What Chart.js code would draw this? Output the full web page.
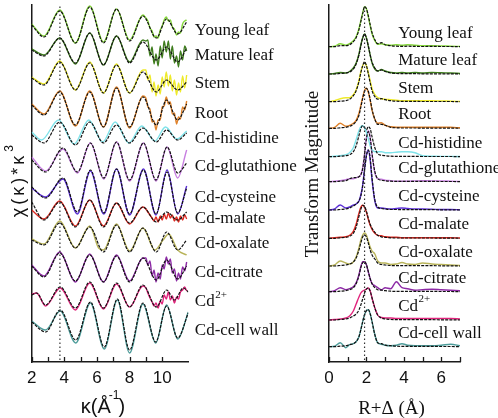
<!DOCTYPE html>
<html><head><meta charset="utf-8">
<script src="https://cdn.jsdelivr.net/npm/chart.js@4/dist/chart.umd.min.js"></script>
<style>
html,body{margin:0;padding:0;background:#fff;width:498px;height:418px;overflow:hidden}
canvas{position:absolute;left:0;top:0}
</style></head><body>
<canvas id="cK" width="498" height="418"></canvas>
<canvas id="cR" width="498" height="418"></canvas>
<script>
// ---------- labels & styling data ----------
const names = ['Young leaf','Mature leaf','Stem','Root','Cd-histidine','Cd-glutathione','Cd-cysteine','Cd-malate','Cd-oxalate','Cd-citrate','Cd2+','Cd-cell wall'];
const colors = ['#86d83c','#3f7d1e','#eeea2a','#e0822a','#7fe3ea','#c77ee0','#5b2fd6','#dc2a22','#b9b45a','#8d2aa6','#e0247c','#4d9c9a'];
const kTickLabels = [2,4,6,8,10];
const rTickLabels = [0,2,4,6];
const kMark = 3.73;   // dotted reference line, k-space
const rMark = 1.9;    // dotted reference line, R-space

// vertical stacking offsets
const kOffsets = [337,312,284,254,229,201,170,149,124,95,66,37];
const rBaselines = [315.3,288,260.3,233.7,205.3,180.3,152,123.7,96,70.3,42,15.3];

// ---------- k-space (chi(k)*k^3) ----------
const kA = [2.0,2.75,3.72,4.68,5.56,6.4,7.2,8.0,8.82,9.64,10.27,10.95,11.5];
const kB = [2.0,2.85,3.92,4.8,5.6,6.42,7.2,8.0,8.85,9.62,10.3,10.95,11.5];
const kC = [2.0,2.6,3.65,4.6,5.5,6.35,7.12,7.95,8.75,9.55,10.2,10.9,11.5];
const kD = [2.0,2.3,2.85,3.75,4.68,5.56,6.4,7.2,8.0,8.82,9.64,10.27,10.75,11.3,11.6];
const kE = [2.0,2.85,3.75,4.7,5.6,6.45,7.25,8.0,8.82,9.6,10.27,10.95,11.6];
const kOx = [2.0,2.75,3.72,4.68,5.56,6.1,6.4,7.2,8.0,8.82,9.55,10.05,10.4,10.95,11.5];
const kNoise = [9.0,9.12,9.25,9.38,9.5,9.62,9.75,9.88,10.0,10.12,10.25,10.38,10.5,10.62,10.75,10.88,11.0,11.12,11.25,11.38,11.5];

const youngFit = [0,-12,14,-18,18,-18,16,-16,9,-13,6,-9,3];
const youngData = [1,-11,15,-18,19,-17,16,-15,10];
const youngNoise = [7,4,-3,-6,-12,-11,-13,-5,-1,5,8,4,5,-2,-4,-10,-7,-8,1,4,5];
const matureFit = [0,-6,12,-13,17,-15,14,-13,8,-10,3,-12,2];
const matureData = [1,-5,12,-14,17,-15,14,-12,10];
const matureNoise = [9,10,-6,3,-14,-4,-16,4,-8,9,-2,9,-9,4,-13,-6,-17,-1,-10,4,-1];
const stemFit = [0,-7,16,-12,15,-15,13,-15,6,-14,-2,-12,-4];
const stemData = [1,-6,17,-12,16,-15,14,-15,8];
const stemNoise = [8,-2,3,-14,-4,-18,-7,-16,1,-9,6,-8,3,-13,-2,-17,-5,-14,2,-10,3];
const rootFit = [3,-7,16,-17,16,-19,20,-19,11,-17,8,-12,4];
const rootData = [4,-6,17,-18,17,-19,21,-20,12];
const rootNoise = [10,1,-1,-14,-13,-22,-12,-12,1,2,11,4,6,-6,-5,-16,-9,-11,1,-2,7];
const histFit = [-2,-10,11,-12,11,-10,8,-10,5,-9,3,-7,0];
const histData = [1,-7,13,-11,13,-9,11,-10,7,-8,6,-6,2];
const glutFit = [1,-11,13,-11,18,-17,19,-19,18,-19,14,-12,-2];
const glutData = [4,-10,12,-12,18,-18,19,-20,18,-20,14,-17,11];
const cysFit = [5,-6,14,-20,22,-21,23,-22,22,-22,20,-21,4];
const cysData = [4,-5,13,-22,21,-22,23,-23,23,-23,22,-22,6];
const malFit = [11,-7,11,-14,13,-14,10,-10,6,-9,1,-7,1];
const malData = [3,-6,12,-13,13,-13,10,-11,6];
const malNoise = [4,1,-2,-5,-8,-4,-9,-3,-7,-1,-6,0,-5,-2,-8,-4,-9,-3,-7,-2,-6];
const oxFit = [-2,-7,15,-10,11,-14,13,-14,10,-14,6,-12,-2];
const oxData = [-1,-6,17,-10,12,-10,-12,14,-13,10,-12,-2,4,-12,-17];
const citFit = [1,-10,14,-14,12,-15,11,-15,9,-13,7,-12,1];
const citData = [2,-9,15,-15,13,-15,12,-14,9];
const citNoise = [9,2,6,-9,-3,-15,-6,-12,2,-2,10,3,8,-6,-2,-14,-6,-12,0,-4,5];
const cd2Fit = [1,3,-9,9,-12,14,-12,13,-11,11,-11,6,-4,8,4];
const cd2Data = [2,3,-10,8,-14,13,-13,12,-11,10];
const cd2Noise = [8,3,-2,-6,-10,-7,-12,-5,-8,1,-3,4,-4,0,-7,-1,-3,4,6,9,5];
const cwFit = [3,-7,15,-15,23,-22,26,-25,22,-17,19,-13,12];
const cwData = [4,-5,14,-18,22,-24,25,-28,21,-18,20,-14,13];

// ---------- R-space (transform magnitude) ----------
const rGrid = [0,0.3,0.6,0.9,1.1,1.3,1.45,1.6,1.7,1.8,1.9,2.0,2.1,2.2,2.3,2.45,2.6,2.8,3.0,3.3,3.6,3.9,4.2,4.6,5.0,5.5,6.0,6.5,7.0];
const ylR = [0,0,1,1,2,5,9,17,25,33,40,38,31,22,14,7,3,4,2,1,0.5,0.3,0.5,0.3,0.2,0.3,0.2,0.2,0];
const ylRd = [0,0.5,3,1.5,3,6,10,18,26,34,40,38,30,21,13,6,2.5,3,2,1.5,2,1.5,2,1.5,1,1,0.8,0.5,0.3];
const mlR = [0,0,0.5,1,2,5,10,19,28,36,40,36,28,19,12,6,3,4,2.5,1,0.5,0.3,0.3,0.3,0.2,0.2,0.2,0.2,0];
const mlRd = [0,0.5,1.5,1,2.5,6,11,20,29,36,40,36,28,19,11,5,3,4.5,3,1.5,1,1.5,1,1.5,1,1.5,1.2,1,0.5];
const stR = [0,0,0.5,1,2.5,6,11,20,29,36,40,36,28,19,11,5,2.5,3,2,1,0.5,0.3,0.3,0.3,0.2,0.2,0.2,0.2,0];
const stRd = [0,1,3,4,4,7,12,21,30,36,39,36,29,21,13,7,4,3,2.5,2,1.5,1,1,1,1,1,0.8,0.5,0.3];
const rtR = [0,0,0.5,1,2,4,7,13,21,30,37,40,37,29,19,9,4,4,3,1,0.5,0.3,0.3,0.3,0.2,0.2,0.2,0.2,0];
const rtRd = [0,1,5,2,3,5,8,15,23,31,38,40,36,28,18,9,5,5.5,3,1.5,1,1,1,1,1,1,1,1,0.5];
const hiR = [0,0,0.5,1,2,5,11,21,28,31,29,27,30,28,20,9,3,1.5,1,0.5,0.3,0.3,0.3,0.3,0.2,0.2,0.2,0.2,0];
const hiRd = [0,0.5,1,2,4,9,17,26,30,31,29,24,18,11,7,5,5,5,4,4,4.5,5,5,4,1,0.5,0.3,0.3,0.2];
const gsR = [0,0,0.5,1,3,4,4,5,7,13,27,43,50,44,28,10,3,1.5,1,0.5,0.3,0.3,0.3,0.3,0.3,0.3,0.2,0.2,0];
const gsRd = [0,0.5,1,2,3,3,4,5,7,14,28,44,51,44,27,9,3,2.5,1.5,1,0.5,0.5,0.5,0.8,1,0.8,0.8,0.5,0.3];
const csR = [0,0,0.5,1,2,4,6,9,14,24,40,54,60,52,32,10,3,1.5,1,0.5,0.5,0.3,0.3,0.3,0.3,0.3,0.2,0.2,0];
const csRd = [0,1,5,2,3,5,6,9,15,25,41,55,60,50,30,9,2,2,1.5,1,1.5,2,1.5,1,1,0.8,0.5,0.5,0.3];
const maR = [0,0,0.5,1,2,5,11,22,29,33,32,27,20,14,10,6,3,1.5,1,0.5,0.3,0.3,0.3,0.3,0.3,0.3,0.2,0.2,0];
const maRd = [0,0.5,1,1.5,3,7,14,25,31,33,31,26,19,13,9,5,3,2.5,1.5,1,1,0.5,0.5,0.5,0.5,0.5,0.5,0.5,0.3];
const oxR = [0,0,0.5,1,2,4,8,16,23,29,31,29,23,16,11,7,3,1.5,1,0.5,0.3,0.3,0.3,0.3,0.3,0.3,0.2,0.2,0];
const oxRd = [0,1,5,3,2,4,9,18,26,31,33,31,25,19,15,12,5,3,3,1.5,2,3.5,2,1.5,3,2,1.5,1,0.5];
const ctR = [0,0,0.5,1,2,4,8,16,24,29,30,27,20,13,8,4,2,1.5,1,0.5,0.3,0.3,0.3,0.3,0.3,0.3,0.2,0.2,0];
const ctRd = [0,1,4,2,3,5,9,17,25,30,30,27,20,13,8,6,4,2,4,3,10,4,3,1.5,2,2.5,2,1.5,1];
const c2R = [0,0,0.5,1,2,4,6,10,15,21,27,31,32,29,22,12,5,2,1,0.5,0.3,0.3,0.3,0.3,0.3,0.3,0.2,0.2,0];
const c2Rd = [0,0.5,1,2,4,9,16,23,27,29,30,31,32,29,22,12,5,2.5,2,2,1.5,1.5,1.5,1.5,1.5,1.5,1.5,1.5,1];
const cwR = [0,0,0.5,1,2,3,5,10,17,25,32,36,37,33,25,12,4,3,1.5,1,0.5,0.3,0.3,0.3,0.3,0.3,0.2,0.2,0];
const cwRd = [0,0.5,4,-1,2,3,5,10,17,25,32,36,37,33,25,12,4,2.5,1.5,1,1.5,3,1.5,1,1,1,1.5,2.5,1];

// ---------- build tables ----------
const pts = (ks, vs, base) => vs.map((v,i)=>({x:ks[i], y:base+v}));
const kSpectra = [
  {fk:kA, f:youngFit, dk:kA, d:youngData, n:youngNoise},
  {fk:kA, f:matureFit, dk:kA, d:matureData, n:matureNoise},
  {fk:kA, f:stemFit, dk:kA, d:stemData, n:stemNoise},
  {fk:kA, f:rootFit, dk:kA, d:rootData, n:rootNoise},
  {fk:kA, f:histFit, dk:kC, d:histData},
  {fk:kB, f:glutFit, dk:kB, d:glutData},
  {fk:kB, f:cysFit, dk:kB, d:cysData},
  {fk:kA, f:malFit, dk:kA, d:malData, n:malNoise},
  {fk:kA, f:oxFit, dk:kOx, d:oxData},
  {fk:kA, f:citFit, dk:kA, d:citData, n:citNoise},
  {fk:kD, f:cd2Fit, dk:kD, d:cd2Data, n:cd2Noise},
  {fk:kE, f:cwFit, dk:kE, d:cwData}
];
const rSpectra = [[ylR,ylRd],[mlR,mlRd],[stR,stRd],[rtR,rtRd],[hiR,hiRd],[gsR,gsRd],[csR,csRd],[maR,maRd],[oxR,oxRd],[ctR,ctRd],[c2R,c2Rd],[cwR,cwRd]];

function dataLine(data, color){ return {data, borderColor:color, borderWidth:1.4, order:2}; }
function fitLine(data){ return {data, borderColor:'#111', borderWidth:1.2, borderDash:[3,1.2], order:1}; }
function markLine(x){ return {data:[{x,y:2},{x,y:357}], borderColor:'#333', borderWidth:1.2, borderDash:[1.5,2.5], tension:0, cubicInterpolationMode:'default', order:0}; }

const kDatasets = [];
kSpectra.forEach((s,i)=>{
  let d = pts(s.dk, s.d, kOffsets[i]);
  if (s.n) d = d.concat(pts(kNoise, s.n, kOffsets[i]));
  kDatasets.push(dataLine(d, colors[i]));
  kDatasets.push(fitLine(pts(s.fk, s.f, kOffsets[i])));
});
kDatasets.push(markLine(kMark));

const rDatasets = [];
rSpectra.forEach((s,i)=>{
  rDatasets.push(dataLine(pts(rGrid, s[1], rBaselines[i]), colors[i]));
  rDatasets.push(fitLine(pts(rGrid, s[0], rBaselines[i])));
});
rDatasets.push(markLine(rMark));

// ---------- decoration plugin: inward ticks, spectrum names, axis titles ----------
function drawSup(ctx, x, y, base, sup, font, supFont, rise){
  ctx.font = font; ctx.fillText(base, x, y);
  const w = ctx.measureText(base).width;
  ctx.font = supFont; ctx.fillText(sup, x + w + 0.5, y - rise);
}
const decor = {
  id:'decor',
  afterDraw(chart, args, o){
    const ctx = chart.ctx, xs = chart.scales.x, ys = chart.scales.y, ca = chart.chartArea;
    ctx.save();
    ctx.strokeStyle = '#1a1a1a'; ctx.lineWidth = 1.3;
    xs.ticks.forEach(t=>{
      if (Number.isInteger(t.value)) {
        const px = Math.round(xs.getPixelForValue(t.value)) + 0.5;
        ctx.beginPath(); ctx.moveTo(px, ca.bottom); ctx.lineTo(px, ca.bottom - 5); ctx.stroke();
      }
    });
    ctx.fillStyle = '#111'; ctx.textBaseline = 'middle'; ctx.textAlign = 'left';
    const lx = xs.getPixelForValue(o.labelX);
    names.forEach((nm,i)=>{
      const ly = ys.getPixelForValue(o.levels[i]) + o.labelShift;
      if (nm === 'Cd2+') drawSup(ctx, lx, ly, 'Cd', '2+', '17px "Liberation Serif"', '11px "Liberation Serif"', 7);
      else { ctx.font = '17px "Liberation Serif"'; ctx.fillText(nm, lx, ly); }
    });
    o.titles(ctx, ca);
    ctx.restore();
  }
};

function baseOptions(min, max, ticksShown, yWidth, padRight, plug){
  return {
    responsive:false, animation:false, events:[],
    layout:{padding:{top:5, right:padRight, bottom:0, left:0}},
    elements:{point:{radius:0}, line:{cubicInterpolationMode:'monotone', fill:false}},
    plugins:{legend:{display:false}, tooltip:{enabled:false}, decor:plug},
    scales:{
      x:{type:'linear', min, max,
         grid:{display:false, drawTicks:false},
         border:{display:true, color:'#1a1a1a', width:1.5},
         ticks:{stepSize:1, autoSkip:false, maxRotation:0, padding:6, color:'#111',
                font:{family:'Liberation Sans', size:17},
                callback:(v)=> ticksShown.includes(v) ? String(v) : ''},
         afterFit:(s)=>{ s.height = 56; }},
      y:{type:'linear', min:0, max:357,
         grid:{display:false, drawTicks:false},
         border:{display:true, color:'#1a1a1a', width:1.5},
         ticks:{display:false},
         afterFit:(s)=>{ s.width = yWidth; }}
    }
  };
}

new Chart(document.getElementById('cK'), {
  type:'line',
  data:{datasets:kDatasets},
  options: baseOptions(2, 11.6, kTickLabels, 31.7, 498-188.3, {
    labelX:12.0, levels:kOffsets, labelShift:6,
    titles(ctx, ca){
      // x title
      ctx.textBaseline = 'alphabetic'; ctx.textAlign = 'left';
      ctx.font = '20px "Liberation Sans"';
      const cx = (ca.left+ca.right)/2 - 7, y = 413;
      const a = 'κ(Å', b = '-1', c = ')';
      const wa = ctx.measureText(a).width; ctx.font = '12px "Liberation Sans"';
      const wb = ctx.measureText(b).width; ctx.font = '20px "Liberation Sans"';
      const wc = ctx.measureText(c).width;
      let x0 = cx - (wa + wb - 3 + wc)/2;
      ctx.fillText(a, x0, y);
      ctx.font = '12px "Liberation Sans"'; ctx.fillText(b, x0 + wa - 2, y - 14);
      ctx.font = '20px "Liberation Sans"'; ctx.fillText(c, x0 + wa + wb - 3, y);
      // y title
      ctx.save();
      ctx.translate(ca.left - 15, 181); ctx.rotate(-Math.PI/2);
      ctx.font = '18px "Liberation Sans"';
      try { ctx.letterSpacing = '3px'; } catch(e){}
      const t = 'χ(κ)*κ'; const wt = ctx.measureText(t).width;
      ctx.textBaseline = 'middle';
      ctx.fillText(t, -(wt+8)/2, 2);
      ctx.letterSpacing = '0px';
      ctx.font = '12px "Liberation Sans"'; ctx.fillText('3', -(wt+8)/2 + wt + 1, -7);
      ctx.restore();
    }
  }),
  plugins:[decor]
});

new Chart(document.getElementById('cR'), {
  type:'line',
  data:{datasets:rDatasets},
  options: baseOptions(0, 7, rTickLabels, 329, 498-460, {
    labelX:3.7, levels:rBaselines, labelShift:-13.5,
    titles(ctx, ca){
      ctx.textBaseline = 'alphabetic'; ctx.textAlign = 'center';
      ctx.font = '19px "Liberation Serif"';
      ctx.fillText('R+Δ (Å)', (ca.left+ca.right)/2 - 3, 414);
      ctx.save();
      ctx.translate(ca.left - 16, 174); ctx.rotate(-Math.PI/2);
      ctx.textBaseline = 'middle'; ctx.textAlign = 'center';
      ctx.font = '19px "Liberation Serif"';
      ctx.fillText('Transform Magnitude', 0, 0);
      ctx.restore();
    }
  }),
  plugins:[decor]
});
</script>
</body></html>
